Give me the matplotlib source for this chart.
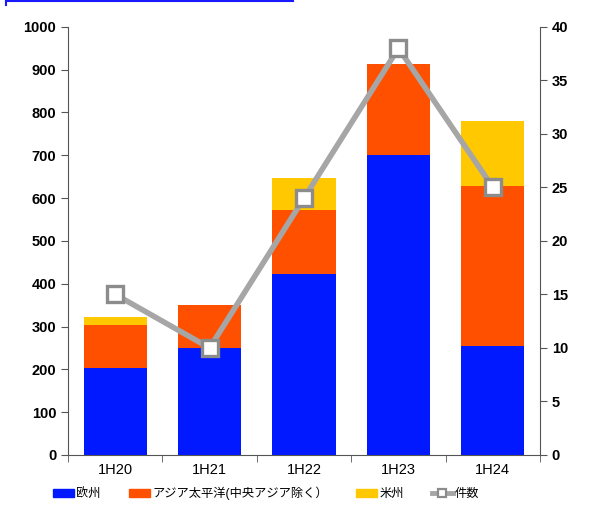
import numpy as np
from matplotlib import pyplot as plt
from matplotlib.lines import Line2D
from matplotlib.patches import Patch

periods = ["1H20", "1H21", "1H22", "1H23", "1H24"]
europe = [203, 250, 423, 700, 255]
apac = [101, 100, 149, 214, 373]
americas = [18, 0, 75, 0, 152]
deals = [15, 10, 24, 38, 25]

c_eu = "#0019FF"
c_ap = "#FF5000"
c_am = "#FFC800"
c_line = "#A6A6A6"

plt.rcParams["font.family"] = ["Liberation Sans", "Noto Sans CJK JP", "DejaVu Sans"]

fig = plt.figure(figsize=(5.93, 5.26), dpi=100)
ax = fig.add_axes([0.1147, 0.135, 0.796, 0.814])
x = np.arange(len(periods))
w = 0.67

eu = np.array(europe)
ap = np.array(apac)
am = np.array(americas)
ax.bar(x, eu, w, color=c_eu)
ax.bar(x, ap, w, bottom=eu, color=c_ap)
ax.bar(x, am, w, bottom=eu + ap, color=c_am)

ax.set_xlim(-0.5, 4.5)
ax.set_ylim(0, 1000)
ax.set_yticks(range(0, 1001, 100))
ax.set_xticks(x)
ax.set_xticklabels(periods, fontsize=10.5)
ax.set_xticks(np.arange(-0.5, 5, 1), minor=True)
ax.tick_params(axis="x", which="major", length=0, pad=6)
ax.tick_params(axis="x", which="minor", length=5, color="#555555")
ax.tick_params(axis="y", length=5, color="#555555", labelsize=10.5)
for lab in ax.get_yticklabels():
    lab.set_fontweight("bold")
ax.spines["top"].set_visible(False)
ax.spines["right"].set_visible(False)
for s in ("left", "bottom"):
    ax.spines[s].set_color("#555555")

ax2 = ax.twinx()
ax2.plot(x, deals, color=c_line, lw=4, marker="s", ms=11.5,
         mfc="white", mec="#8C8C8C", mew=2.4, zorder=5)
ax2.set_ylim(0, 40)
ax2.set_yticks(range(0, 41, 5))
ax2.tick_params(axis="y", length=5, color="#555555", labelsize=10.5)
for lab in ax2.get_yticklabels():
    lab.set_fontweight("bold")
ax2.spines["top"].set_visible(False)
ax2.spines["left"].set_visible(False)
ax2.spines["bottom"].set_visible(False)
ax2.spines["right"].set_color("#555555")

handles = [
    Patch(color=c_eu, label="欧州"),
    Patch(color=c_ap, label="アジア太平洋(中央アジア除く）"),
    Patch(color=c_am, label="米州"),
    Line2D([], [], color=c_line, lw=3.5, marker="s", ms=6, mfc="white",
           mec="#8C8C8C", mew=1.6, label="件数"),
]
fig.legend(handles=handles, loc="center", bbox_to_anchor=(0.449, 0.062),
           ncol=4, frameon=False, fontsize=8.8, handlelength=1.75,
           handleheight=0.6, handletextpad=0.15, columnspacing=2.3)

# blue frame edge at the top
fig.add_artist(Line2D([0.01, 0.494], [0.999, 0.999], color="#1A1AFF", lw=1.5))
fig.add_artist(Line2D([0.01, 0.01], [0.99, 1.0], color="#1A1AFF", lw=1.5))

fig.savefig("out.png", dpi=100)
